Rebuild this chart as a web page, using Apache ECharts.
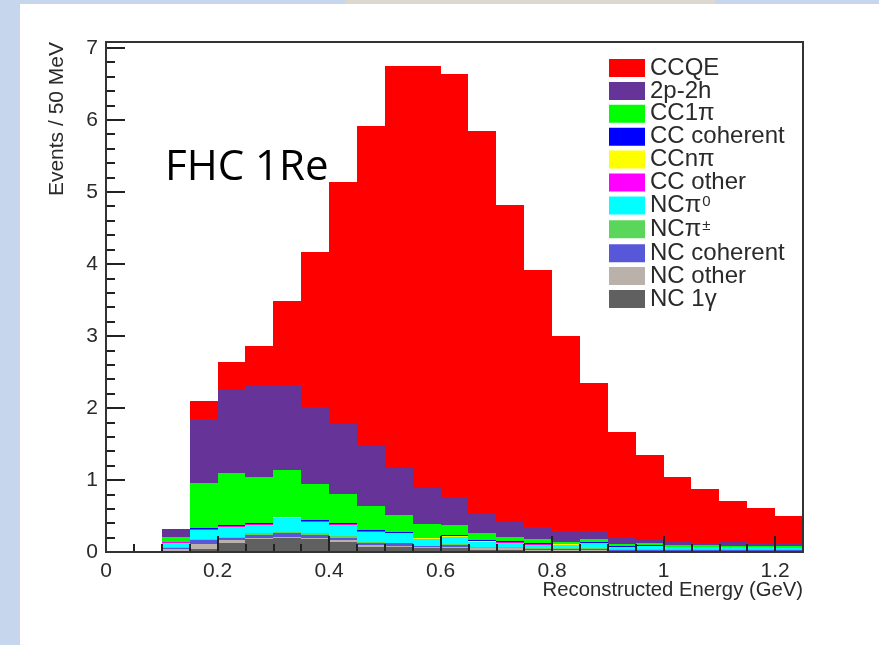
<!DOCTYPE html>
<html>
<head>
<meta charset="utf-8">
<script src="https://cdn.jsdelivr.net/npm/echarts@6/dist/echarts.min.js"></script>
<style>
  html, body { margin: 0; padding: 0; background: #ffffff; }
  #chart { width: 879px; height: 645px; }
</style>
</head>
<body>
<div id="chart"></div>
<script>
// Lower edge of each 50 MeV bin (GeV)
const binLow = [0.10, 0.15, 0.20, 0.25, 0.30, 0.35, 0.40, 0.45, 0.50, 0.55, 0.60, 0.65,
                0.70, 0.75, 0.80, 0.85, 0.90, 0.95, 1.00, 1.05, 1.10, 1.15, 1.20];
const BIN_WIDTH = 0.05;

// Expected events per bin, one array per interaction mode
const ccqe      = [0.01, 0.25, 0.39, 0.55, 1.17, 2.15, 3.35, 4.44, 5.57, 5.86, 5.87, 5.32,
                   4.41, 3.56, 2.72, 2.06, 1.46, 1.18, 0.89, 0.75, 0.57, 0.48, 0.38];
const twoP2h    = [0.09, 0.88, 1.16, 1.27, 1.18, 1.07, 0.97, 0.83, 0.66, 0.50, 0.39, 0.26,
                   0.20, 0.17, 0.15, 0.10, 0.09, 0.04, 0.05, 0.03, 0.05, 0.04, 0.04];
const cc1pi     = [0.07, 0.62, 0.71, 0.64, 0.65, 0.50, 0.41, 0.34, 0.23, 0.19, 0.15, 0.11,
                   0.06, 0.06, 0.02, 0.05, 0.03, 0.03, 0.03, 0.03, 0.02, 0.02, 0.02];
const ccCoh     = [0.01, 0.02, 0.02, 0.01, 0.01, 0.01, 0.01, 0.01, 0.01, 0.01, 0.01, 0.01,
                   0.01, 0.01, 0.01, 0.01, 0.01, 0.01, 0.00, 0.00, 0.00, 0.00, 0.00];
const ccNpi     = [0.000, 0.005, 0.005, 0.005, 0.005, 0.005, 0.005, 0.005, 0.005, 0.005, 0.005, 0.005,
                   0.005, 0.005, 0.005, 0.005, 0.005, 0.005, 0.000, 0.000, 0.000, 0.000, 0.000];
const ccOther   = [0.005, 0.005, 0.005, 0.005, 0.005, 0.005, 0.005, 0.005, 0.005, 0.005, 0.005, 0.005,
                   0.005, 0.005, 0.000, 0.000, 0.000, 0.000, 0.000, 0.000, 0.000, 0.000, 0.000];
const ncPi0     = [0.06, 0.13, 0.14, 0.12, 0.19, 0.16, 0.16, 0.14, 0.13, 0.09, 0.10, 0.07,
                   0.06, 0.05, 0.05, 0.07, 0.03, 0.04, 0.03, 0.03, 0.03, 0.03, 0.02];
const ncPipm    = [0.01, 0.02, 0.02, 0.02, 0.02, 0.02, 0.02, 0.01, 0.01, 0.01, 0.01, 0.01,
                   0.01, 0.01, 0.01, 0.01, 0.01, 0.01, 0.01, 0.01, 0.01, 0.01, 0.01];
const ncCoh     = [0.02, 0.05, 0.03, 0.04, 0.05, 0.04, 0.04, 0.03, 0.03, 0.01, 0.03, 0.01,
                   0.01, 0.01, 0.01, 0.01, 0.01, 0.01, 0.01, 0.01, 0.01, 0.01, 0.01];
const ncOther   = [0.02, 0.07, 0.04, 0.02, 0.02, 0.02, 0.02, 0.03, 0.02, 0.02, 0.02, 0.02,
                   0.02, 0.01, 0.01, 0.01, 0.01, 0.01, 0.01, 0.01, 0.01, 0.01, 0.01];
const nc1gamma  = [0.02, 0.04, 0.12, 0.18, 0.19, 0.18, 0.14, 0.07, 0.07, 0.05, 0.05, 0.03,
                   0.03, 0.02, 0.02, 0.02, 0.01, 0.01, 0.01, 0.01, 0.01, 0.01, 0.01];

// Axis tick labels
const xTickLabels = [0, 0.2, 0.4, 0.6, 0.8, 1, 1.2];
const yTickLabels = [0, 1, 2, 3, 4, 5, 6, 7];

const X_MAX = 1.25;
const Y_MAX = 7.08;

// Stack order, bottom to top
const components = [
  { name: 'NC 1γ',        values: nc1gamma, color: '#606060' },
  { name: 'NC other',     values: ncOther,  color: '#bab2aa' },
  { name: 'NC coherent',  values: ncCoh,    color: '#5757da' },
  { name: 'NCπ±',         values: ncPipm,   color: '#5ad65a' },
  { name: 'NCπ⁰',         values: ncPi0,    color: '#00ffff' },
  { name: 'CC other',     values: ccOther,  color: '#ff00ff' },
  { name: 'CCnπ',         values: ccNpi,    color: '#ffff00' },
  { name: 'CC coherent',  values: ccCoh,    color: '#0000ff' },
  { name: 'CC1π',         values: cc1pi,    color: '#00ff00' },
  { name: '2p-2h',        values: twoP2h,   color: '#663399' },
  { name: 'CCQE',         values: ccqe,     color: '#ff0000' }
];

// Minor tick positions
const xMinorTicks = [];
for (let i = 1; i <= 24; i++) { if (i % 4 !== 0) xMinorTicks.push(+(i * 0.05).toFixed(2)); }
const yMinorTicks = [];
for (let i = 1; i <= 35; i++) { if (i % 5 !== 0) yMinorTicks.push(+(i * 0.2).toFixed(1)); }

function makeRenderer(color) {
  return function (params, api) {
    const lo = api.value(0), hi = api.value(1), base = api.value(2), top = api.value(3);
    if (!(top > base)) return null;
    const a = api.coord([lo, top]);
    const b = api.coord([hi, base]);
    const x0 = Math.round(a[0]), x1 = Math.round(b[0]);
    const y0 = Math.round(a[1]), y1 = Math.round(b[1]);
    if (y1 <= y0) return null;
    return {
      type: 'rect',
      shape: { x: x0, y: y0, width: x1 - x0, height: y1 - y0 },
      style: { fill: color }
    };
  };
}

// Build stacked rectangles [low edge, high edge, bottom, top]
const cumulative = binLow.map(() => 0);
const series = components.map(c => {
  const data = binLow.map((lo, i) => {
    const base = cumulative[i];
    const top = base + c.values[i];
    cumulative[i] = top;
    return [lo, lo + BIN_WIDTH, base, top];
  });
  return {
    type: 'custom',
    name: c.name,
    xAxisIndex: 0,
    yAxisIndex: 0,
    itemStyle: { color: c.color },
    encode: { x: [0, 1], y: [2, 3] },
    renderItem: makeRenderer(c.color),
    data: data,
    z: 2
  };
});

const legendOrder = components.map(c => c.name).reverse();

const FONT = '"Liberation Sans", Arial, Helvetica, sans-serif';
const TICK_COLOR = '#222';
const TEXT_COLOR = '#2a2a2a';

const chart = echarts.init(document.getElementById('chart'), null, { renderer: 'canvas' });
chart.setOption({
  animation: false,
  backgroundColor: '#ffffff',
  grid: {
    show: true,
    left: 106, top: 42, right: 76, bottom: 93,
    borderColor: '#333',
    borderWidth: 2,
    backgroundColor: 'transparent',
    z: 6
  },
  xAxis: [
    {
      type: 'value', min: 0, max: X_MAX, position: 'bottom', z: 5,
      axisLine: { show: false },
      splitLine: { show: false },
      axisTick: {
        show: true, inside: true, length: 16, customValues: xTickLabels,
        lineStyle: { color: TICK_COLOR, width: 2 }
      },
      axisLabel: {
        show: true, customValues: xTickLabels, margin: 9,
        color: TEXT_COLOR, fontFamily: FONT, fontSize: 21,
        formatter: v => String(Number(v.toFixed(2)))
      }
    },
    {
      type: 'value', min: 0, max: X_MAX, position: 'bottom', z: 5,
      axisLine: { show: false },
      splitLine: { show: false },
      axisLabel: { show: false },
      axisTick: {
        show: true, inside: true, length: 8, customValues: xMinorTicks,
        lineStyle: { color: TICK_COLOR, width: 2 }
      }
    }
  ],
  yAxis: [
    {
      type: 'value', min: 0, max: Y_MAX, position: 'left', z: 5,
      axisLine: { show: false },
      splitLine: { show: false },
      axisTick: {
        show: true, inside: true, length: 19, customValues: yTickLabels,
        lineStyle: { color: TICK_COLOR, width: 2 }
      },
      axisLabel: {
        show: true, customValues: yTickLabels, margin: 8,
        color: TEXT_COLOR, fontFamily: FONT, fontSize: 21,
        formatter: v => String(v)
      }
    },
    {
      type: 'value', min: 0, max: Y_MAX, position: 'left', z: 5,
      axisLine: { show: false },
      splitLine: { show: false },
      axisLabel: { show: false },
      axisTick: {
        show: true, inside: true, length: 9, customValues: yMinorTicks,
        lineStyle: { color: TICK_COLOR, width: 2 }
      }
    }
  ],
  legend: {
    data: legendOrder,
    orient: 'vertical',
    left: 609,
    top: 56,
    padding: 0,
    itemWidth: 36,
    itemHeight: 18,
    itemGap: -1.1,
    icon: 'rect',
    selectedMode: false,
    textStyle: {
      fontFamily: FONT, fontSize: 24, color: TEXT_COLOR, lineHeight: 22,
      rich: {
        b: { fontFamily: FONT, fontSize: 24, color: TEXT_COLOR, lineHeight: 22 },
        s: { fontFamily: FONT, fontSize: 15, color: TEXT_COLOR, lineHeight: 22, verticalAlign: 'top', padding: [0, 0, 9, 1] }
      }
    },
    formatter: function (name) {
      if (name === 'NCπ⁰') return '{b|NCπ}{s|0}';
      if (name === 'NCπ±') return '{b|NCπ}{s|±}';
      return name;
    }
  },
  graphic: [
    { type: 'rect', z: -10, shape: { x: 0, y: 0, width: 20, height: 645 }, style: { fill: '#c6d6ec' } },
    { type: 'rect', z: -10, shape: { x: 0, y: 0, width: 879, height: 4 }, style: { fill: '#c6d6ec' } },
    { type: 'rect', z: -9, shape: { x: 345, y: 0, width: 370, height: 4 }, style: { fill: '#dcd7cf' } },
    {
      type: 'text', x: 57, y: 42, rotation: Math.PI / 2, z: 10,
      style: {
        text: 'Events / 50 MeV', font: '21px ' + FONT, fill: TEXT_COLOR,
        textAlign: 'right', textVerticalAlign: 'middle', align: 'right', verticalAlign: 'middle'
      }
    },
    {
      type: 'text', x: 803, y: 590, z: 10,
      style: {
        text: 'Reconstructed Energy (GeV)', font: '20.3px ' + FONT, fill: TEXT_COLOR,
        textAlign: 'right', textVerticalAlign: 'middle', align: 'right', verticalAlign: 'middle'
      }
    },
    {
      type: 'text', x: 165, y: 168, z: 10,
      style: {
        text: 'FHC 1Re', font: '42px "Open Sans", "Noto Sans", sans-serif', fill: '#000',
        textAlign: 'left', textVerticalAlign: 'middle', align: 'left', verticalAlign: 'middle'
      }
    }
  ],
  series: series
});
</script>
</body>
</html>
